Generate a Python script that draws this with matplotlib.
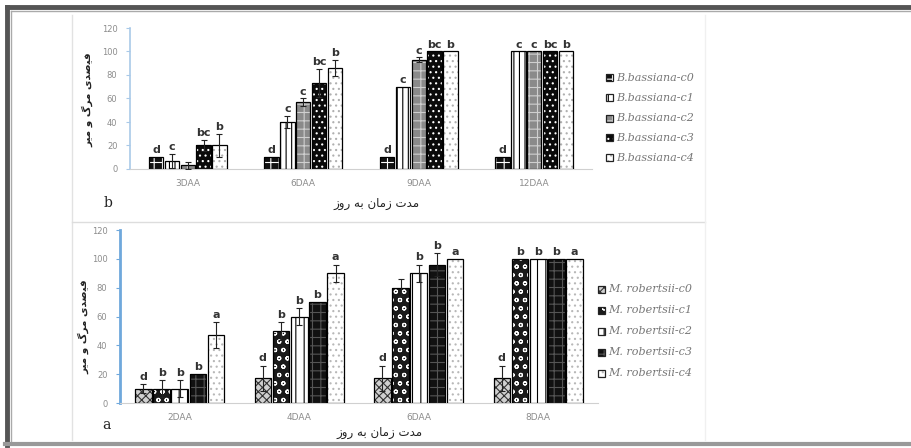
import matplotlib
matplotlib.use("Agg")
import matplotlib.pyplot as plt
import numpy as np
from matplotlib.patches import Rectangle
from matplotlib.lines import Line2D

# ---------------- data ----------------
cats_top = ["3DAA", "6DAA", "9DAA", "12DAA"]
series_top = ["B.bassiana-c0", "B.bassiana-c1", "B.bassiana-c2", "B.bassiana-c3", "B.bassiana-c4"]
vals_top = [
    [10, 10, 10, 10],     # c0
    [7, 40, 70, 100],     # c1
    [3, 57, 93, 100],     # c2
    [20, 73, 100, 100],   # c3
    [20, 86, 100, 100],   # c4
]
err_top = [
    [0, 0, 0, 0],
    [6, 5, 0, 0],
    [3, 3, 2, 0],
    [5, 12, 0, 0],
    [10, 7, 0, 0],
]
letters_top = [
    ["d", "d", "d", "d"],
    ["c", "c", "c", "c"],
    ["", "c", "c", "c"],
    ["bc", "bc", "bc", "bc"],
    ["b", "b", "b", "b"],
]

cats_bot = ["2DAA", "4DAA", "6DAA", "8DAA"]
series_bot = ["M. robertsii-c0", "M. robertsii-c1", "M. robertsii-c2", "M. robertsii-c3", "M. robertsii-c4"]
vals_bot = [
    [10, 17, 17, 17],
    [10, 50, 80, 100],
    [10, 60, 90, 100],
    [20, 70, 96, 100],
    [47, 90, 100, 100],
]
err_bot = [
    [3, 9, 9, 9],
    [6, 6, 6, 0],
    [6, 6, 6, 0],
    [0, 0, 8, 0],
    [9, 6, 0, 0],
]
letters_bot = [
    ["d", "d", "d", "d"],
    ["b", "b", "", "b"],
    ["b", "b", "b", "b"],
    ["b", "b", "b", "b"],
    ["a", "a", "a", "a"],
]

yticks = [0, 20, 40, 60, 80, 100, 120]

# Persian labels (presentation forms, visual order)
xlabel_fa = "\uFEAF\uFEED\uFEAD \uFEEA\uFE91 \uFEE5\uFE8E\uFEE3\uFEAF \uFE95\uFEAA\uFEE3"
ylabel_fa = "\uFEAE\uFEF4\uFEE3 \uFEED \u06AF\uFEAE\uFEE3 \uFEEF\uFEAA\uFEBB\uFEF4\uFED3"

# styles: (face, hatch, hatchcolor)
styles_top = [
    ("#111111", "++", "white"),
    ("white", "|||", "black"),
    ("#8a8a8a", "++", "#cfcfcf"),
    ("#0a0a0a", "...", "white"),
    ("white", "...", "#b0b0b0"),
]
styles_bot = [
    ("#d0d0d0", "xxxx", "#333333"),
    ("#1a1a1a", "oo", "white"),
    ("white", "||", "black"),
    ("#111111", "++", "#555555"),
    ("white", "...", "#b8b8b8"),
]

W, H = 912, 448
fig = plt.figure(figsize=(W / 100, H / 100), dpi=100)
plt.rcParams["hatch.linewidth"] = 0.8


def fx(px):
    return px / W


def fy(py):
    return 1 - py / H


# frame decorations
fig.add_artist(Line2D([fx(7), fx(7)], [fy(7), fy(445)], color="#555555", lw=3.5))
fig.add_artist(Line2D([fx(7), fx(912)], [fy(7), fy(7)], color="#555555", lw=3.5))
fig.add_artist(Line2D([fx(11), fx(11)], [fy(11), fy(442)], color="#aaaaaa", lw=1))
fig.add_artist(Line2D([fx(11), fx(912)], [fy(11), fy(11)], color="#aaaaaa", lw=1))
fig.add_artist(Line2D([fx(5), fx(912)], [fy(444), fy(444)], color="#999999", lw=3))
fig.add_artist(Line2D([fx(72), fx(72)], [fy(15), fy(440)], color="#e2e2e2", lw=1))
fig.add_artist(Line2D([fx(72), fx(705)], [fy(222), fy(222)], color="#dddddd", lw=1))
fig.add_artist(Line2D([fx(705), fx(705)], [fy(15), fy(440)], color="#f0f0f0", lw=1))


def draw_panel(rect, cats, series, vals, errs, letters, styles, bw, step, axcolor, axlw):
    ax = fig.add_axes(rect)
    x = np.arange(len(cats))
    n = len(series)
    for i in range(n):
        face, hatch, hc = styles[i]
        pos = x + (i - (n - 1) / 2) * step
        ax.bar(pos, vals[i], width=bw, color=face, edgecolor=hc, hatch=hatch, linewidth=0, zorder=2)
        ax.bar(pos, vals[i], width=bw, fill=False, edgecolor="black", linewidth=0.9, zorder=3)
        e = np.array(errs[i])
        mask = e > 0
        if mask.any():
            ax.errorbar(pos[mask], np.array(vals[i])[mask], yerr=e[mask], fmt="none",
                        ecolor="#222222", elinewidth=0.8, capsize=2.2, capthick=0.8, zorder=4)
        for j in range(len(cats)):
            if letters[i][j]:
                top = vals[i][j] + errs[i][j]
                ax.text(pos[j], top + 1.5, letters[i][j], ha="center", va="bottom",
                        fontsize=8, color="#333333", fontweight="bold", zorder=5)
    ax.set_ylim(0, 120)
    ax.set_xlim(-0.5, len(cats) - 0.5)
    ax.set_yticks(yticks)
    ax.set_yticklabels([str(t) for t in yticks], fontsize=6, color="#8c8c8c")
    ax.set_xticks(x)
    ax.set_xticklabels(cats, fontsize=6.5, color="#8c8c8c")
    ax.tick_params(axis="x", length=0, pad=7)
    ax.tick_params(axis="y", length=3, width=0.8, color=axcolor, pad=6)
    for s in ["top", "right"]:
        ax.spines[s].set_visible(False)
    ax.spines["left"].set_color(axcolor)
    ax.spines["left"].set_linewidth(axlw)
    ax.spines["bottom"].set_color("#d0d0d0")
    ax.spines["bottom"].set_linewidth(0.8)
    ax.patch.set_alpha(0)
    return ax


ax1 = draw_panel([fx(130), fy(169), fx(592) - fx(130), fy(28) - fy(169)],
                 cats_top, series_top, vals_top, err_top, letters_top, styles_top,
                 bw=0.125, step=0.137, axcolor="#a9c9e8", axlw=1.2)
ax2 = draw_panel([fx(120), fy(403), fx(598) - fx(120), fy(230) - fy(403)],
                 cats_bot, series_bot, vals_bot, err_bot, letters_bot, styles_bot,
                 bw=0.14, step=0.152, axcolor="#6fa8dc", axlw=2.0)

# axis titles
fig.text(fx(377), fy(203), xlabel_fa, ha="center", va="center", fontsize=8.5,
         family="DejaVu Sans", color="#222222")
fig.text(fx(380), fy(432), xlabel_fa, ha="center", va="center", fontsize=8.5,
         family="DejaVu Sans", color="#222222")
fig.text(fx(88), fy(100), ylabel_fa, ha="center", va="center", fontsize=7.5, rotation=90,
         family="DejaVu Sans", color="#222222", fontweight="bold")
fig.text(fx(84), fy(327), ylabel_fa, ha="center", va="center", fontsize=7.5, rotation=90,
         family="DejaVu Sans", color="#222222", fontweight="bold")

# panel letters
fig.text(fx(108), fy(203), "b", ha="center", va="center", fontsize=10,
         family="DejaVu Serif", color="#222222")
fig.text(fx(106), fy(425), "a", ha="center", va="center", fontsize=10,
         family="DejaVu Serif", color="#222222")


# legends
def legend(series, styles, x, y, dy):
    for i, name in enumerate(series):
        face, hatch, hc = styles[i]
        yy = y + i * dy
        fig.add_artist(Rectangle((fx(x), fy(yy + 3.5)), 7 / W, 7 / H, transform=fig.transFigure,
                                 facecolor=face, edgecolor=hc, hatch=hatch, linewidth=0))
        fig.add_artist(Rectangle((fx(x), fy(yy + 3.5)), 7 / W, 7 / H, transform=fig.transFigure,
                                 fill=False, edgecolor="#222222", linewidth=0.9))
        fig.text(fx(x + 10), fy(yy), name, ha="left", va="center", fontsize=8,
                 family="DejaVu Serif", style="italic", color="#777777")


legend(series_top, styles_top, 606, 78, 20)
legend(series_bot, styles_bot, 598, 289, 21)

fig.savefig("out.png", dpi=100, facecolor="white")
